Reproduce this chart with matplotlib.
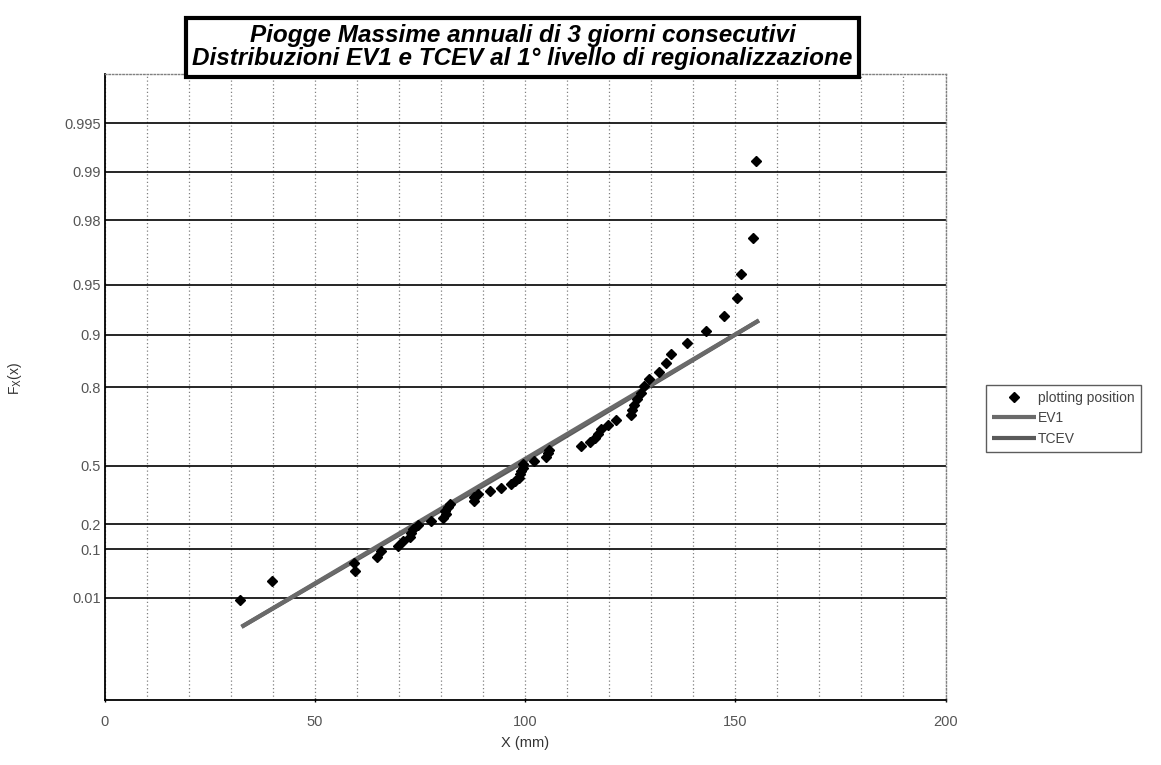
import numpy as np
import matplotlib
matplotlib.use("Agg")
import matplotlib.pyplot as plt

# ---- data ----
pp_x = [32.2, 39.7, 59.5, 59.3, 64.8, 65.8, 69.7, 70.9, 72.5, 72.9,
        73.3, 74.5, 77.5, 80.4, 81.1, 80.8, 81.6, 82.0, 87.9, 87.9,
        88.7, 91.5, 94.3, 96.5, 97.5, 98.6, 98.8, 99.0, 99.4, 99.4,
        102.2, 105.0, 105.3, 105.7, 113.2, 115.5, 116.5, 117.2, 118.0, 119.6,
        121.7, 125.1, 125.5, 125.9, 126.7, 127.5, 128.3, 129.5, 131.8, 133.4,
        134.6, 138.5, 143.1, 147.4, 150.4, 151.3, 154.1, 154.9]
pp_F = [0.0086, 0.0259, 0.0431, 0.0603, 0.0776, 0.0948, 0.1121, 0.1293, 0.1466, 0.1638,
        0.1810, 0.1983, 0.2155, 0.2328, 0.2500, 0.2672, 0.2845, 0.3017, 0.3190, 0.3362,
        0.3534, 0.3707, 0.3879, 0.4052, 0.4224, 0.4397, 0.4569, 0.4741, 0.4914, 0.5086,
        0.5259, 0.5431, 0.5603, 0.5776, 0.5948, 0.6121, 0.6293, 0.6466, 0.6638, 0.6810,
        0.6983, 0.7155, 0.7328, 0.7500, 0.7672, 0.7845, 0.8017, 0.8190, 0.8362, 0.8534,
        0.8707, 0.8879, 0.9052, 0.9224, 0.9397, 0.9569, 0.9741, 0.9914]

ev1_x = [32.5, 155.6]
ev1_F = [0.0009, 0.9180]
tcev_x = [32.5, 98.0, 155.6]
tcev_F = [0.0009, 0.5000, 0.9180]

y_ticks = [0.01, 0.1, 0.2, 0.5, 0.8, 0.9, 0.95, 0.98, 0.99, 0.995]
y_tick_labels = ["0.01", "0.1", "0.2", "0.5", "0.8", "0.9", "0.95", "0.98", "0.99", "0.995"]
x_ticks = [0, 50, 100, 150, 200]

title_text = "Piogge Massime annuali di 3 giorni consecutivi\nDistribuzioni EV1 e TCEV al 1° livello di regionalizzazione"


def gumbel_fwd(F):
    F = np.clip(np.asarray(F, dtype=float), 1e-300, 1 - 1e-16)
    return -np.log(-np.log(F))


def gumbel_inv(y):
    return np.exp(-np.exp(-np.asarray(y, dtype=float)))


plt.rcParams["font.family"] = ["Liberation Sans", "DejaVu Sans"]

fig = plt.figure(figsize=(11.61, 7.65), dpi=100)
ax = fig.add_axes([0.0904, 0.085, 0.724, 0.818])

ax.set_yscale("function", functions=(gumbel_fwd, gumbel_inv))
ax.set_ylim(gumbel_inv(-3.0), gumbel_inv(6.0))
ax.set_xlim(0, 200)

ax.plot(tcev_x, tcev_F, color="#5a5a5a", lw=3.0, solid_capstyle="butt", label="TCEV", zorder=3)
ax.plot(ev1_x, ev1_F, color="#6a6a6a", lw=3.0, solid_capstyle="butt", label="EV1", zorder=3)
ax.plot(pp_x, pp_F, linestyle="none", marker="D", markersize=5.0, color="black",
        label="plotting position", zorder=4)

ax.set_yticks(y_ticks)
ax.set_yticklabels(y_tick_labels)
ax.yaxis.set_minor_locator(matplotlib.ticker.NullLocator())
ax.set_xticks(x_ticks)
ax.set_xticks(np.arange(0, 201, 10), minor=True)

ax.grid(which="major", axis="y", color="black", lw=1.2, ls="-")
ax.grid(which="both", axis="x", color="#808080", lw=0.9, ls=(0, (1, 2)))
ax.set_axisbelow(True)

ax.tick_params(axis="both", which="major", labelsize=10.5, labelcolor="#555555",
               length=3, width=1, color="black", direction="inout")
ax.tick_params(axis="y", which="major", length=0, pad=3)
ax.tick_params(axis="x", which="major", pad=9)
ax.tick_params(axis="x", which="minor", length=0)

for side in ["left", "bottom"]:
    ax.spines[side].set_color("black")
    ax.spines[side].set_linewidth(1.3)
for side in ["top", "right"]:
    ax.spines[side].set_color("#808080")
    ax.spines[side].set_linewidth(1.0)
    ax.spines[side].set_linestyle((0, (1, 1.5)))

ax.set_xlabel("X (mm)", fontsize=10.5, color="#333333", labelpad=5)
fig.text(0.013, 0.505, r"F$_\mathrm{X}$(x)", rotation=90, fontsize=10,
         color="#333333", ha="center", va="center")

fig.text(0.450, 0.938, title_text, ha="center", va="center", fontsize=17.5,
         fontweight="bold", fontstyle="italic", linespacing=1.0, zorder=10,
         bbox=dict(boxstyle="square,pad=0.25", facecolor="white", edgecolor="black", linewidth=3.0))

handles, labels = ax.get_legend_handles_labels()
order = [2, 1, 0]
leg = fig.legend([handles[i] for i in order], [labels[i] for i in order],
                 loc="upper left", bbox_to_anchor=(0.849, 0.497), fontsize=10,
                 frameon=True, fancybox=False, handlelength=3.2, handletextpad=0.1,
                 borderpad=0.45, labelspacing=0.45, labelcolor="#444444",
                 borderaxespad=0)
leg.get_frame().set_edgecolor("#333333")
leg.get_frame().set_linewidth(1.0)

fig.savefig("out.png", dpi=100)
